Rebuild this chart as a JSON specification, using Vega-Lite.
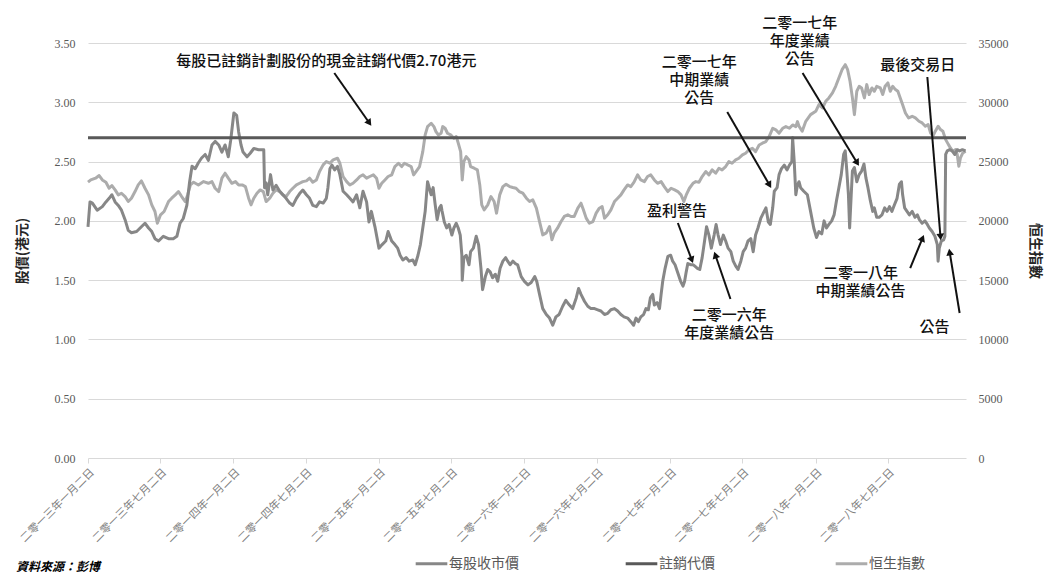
{
  "$schema": "https://vega.github.io/schema/vega-lite/v6.json",
  "width": 878,
  "height": 415,
  "autosize": {"type": "none"},
  "padding": {"left": 88, "top": 43, "right": 84, "bottom": 117},
  "background": "white",
  "config": {"view": {"stroke": null}, "font": "Noto Sans CJK TC"},
  "title": {"text": "資料來源：彭博", "orient": "bottom", "anchor": "start", "frame": "bounds", "fontSize": 12, "fontStyle": "italic", "fontWeight": "bold", "color": "#000000", "font": "Noto Sans CJK TC", "offset": 0, "dy": -9, "dx": 1},
  "datasets": {
    "price": [
      {"d":"2013-01-02","p":1.95},{"d":"2013-01-07","p":2.16},{"d":"2013-01-13","p":2.15},{"d":"2013-01-25","p":2.09},{"d":"2013-02-07","p":2.12},{"d":"2013-02-16","p":2.16},{"d":"2013-02-24","p":2.19},{"d":"2013-03-03","p":2.22},{"d":"2013-03-11","p":2.16},{"d":"2013-03-19","p":2.13},{"d":"2013-03-27","p":2.09},{"d":"2013-04-05","p":2.01},{"d":"2013-04-13","p":1.92},{"d":"2013-04-21","p":1.90},{"d":"2013-05-04","p":1.91},{"d":"2013-05-16","p":1.95},{"d":"2013-05-25","p":1.98},{"d":"2013-06-03","p":1.94},{"d":"2013-06-11","p":1.91},{"d":"2013-06-19","p":1.85},{"d":"2013-06-28","p":1.83},{"d":"2013-07-10","p":1.87},{"d":"2013-07-23","p":1.85},{"d":"2013-08-04","p":1.85},{"d":"2013-08-13","p":1.87},{"d":"2013-08-21","p":1.98},{"d":"2013-08-29","p":2.02},{"d":"2013-09-07","p":2.13},{"d":"2013-09-14","p":2.33},{"d":"2013-09-20","p":2.46},{"d":"2013-09-28","p":2.44},{"d":"2013-10-06","p":2.49},{"d":"2013-10-14","p":2.53},{"d":"2013-10-23","p":2.56},{"d":"2013-10-31","p":2.51},{"d":"2013-11-09","p":2.64},{"d":"2013-11-17","p":2.67},{"d":"2013-11-26","p":2.64},{"d":"2013-12-04","p":2.58},{"d":"2013-12-12","p":2.64},{"d":"2013-12-20","p":2.54},{"d":"2013-12-26","p":2.68},{"d":"2014-01-03","p":2.91},{"d":"2014-01-10","p":2.89},{"d":"2014-01-15","p":2.75},{"d":"2014-01-21","p":2.64},{"d":"2014-01-26","p":2.58},{"d":"2014-02-05","p":2.54},{"d":"2014-02-13","p":2.57},{"d":"2014-02-22","p":2.61},{"d":"2014-03-06","p":2.60},{"d":"2014-03-19","p":2.60},{"d":"2014-03-21","p":2.28},{"d":"2014-03-25","p":2.32},{"d":"2014-03-29","p":2.22},{"d":"2014-04-05","p":2.39},{"d":"2014-04-11","p":2.26},{"d":"2014-04-19","p":2.30},{"d":"2014-04-28","p":2.25},{"d":"2014-05-06","p":2.22},{"d":"2014-05-14","p":2.19},{"d":"2014-05-23","p":2.15},{"d":"2014-05-31","p":2.13},{"d":"2014-06-09","p":2.19},{"d":"2014-06-17","p":2.23},{"d":"2014-06-25","p":2.26},{"d":"2014-07-04","p":2.22},{"d":"2014-07-12","p":2.19},{"d":"2014-07-20","p":2.13},{"d":"2014-07-29","p":2.12},{"d":"2014-08-06","p":2.16},{"d":"2014-08-15","p":2.15},{"d":"2014-08-23","p":2.19},{"d":"2014-08-27","p":2.28},{"d":"2014-09-01","p":2.44},{"d":"2014-09-06","p":2.47},{"d":"2014-09-13","p":2.43},{"d":"2014-09-20","p":2.46},{"d":"2014-09-26","p":2.39},{"d":"2014-10-04","p":2.25},{"d":"2014-10-13","p":2.22},{"d":"2014-10-21","p":2.19},{"d":"2014-10-29","p":2.16},{"d":"2014-11-07","p":2.22},{"d":"2014-11-15","p":2.11},{"d":"2014-11-23","p":2.25},{"d":"2014-12-02","p":2.16},{"d":"2014-12-08","p":1.99},{"d":"2014-12-14","p":2.08},{"d":"2014-12-23","p":1.95},{"d":"2015-01-02","p":1.77},{"d":"2015-01-10","p":1.80},{"d":"2015-01-19","p":1.83},{"d":"2015-01-25","p":1.91},{"d":"2015-02-03","p":1.83},{"d":"2015-02-11","p":1.80},{"d":"2015-02-18","p":1.77},{"d":"2015-02-24","p":1.71},{"d":"2015-03-03","p":1.67},{"d":"2015-03-11","p":1.69},{"d":"2015-03-19","p":1.66},{"d":"2015-03-28","p":1.67},{"d":"2015-04-03","p":1.63},{"d":"2015-04-10","p":1.71},{"d":"2015-04-16","p":1.80},{"d":"2015-04-22","p":1.94},{"d":"2015-04-28","p":2.08},{"d":"2015-05-04","p":2.33},{"d":"2015-05-13","p":2.22},{"d":"2015-05-18","p":2.28},{"d":"2015-05-23","p":2.14},{"d":"2015-05-28","p":2.01},{"d":"2015-06-03","p":2.11},{"d":"2015-06-07","p":2.13},{"d":"2015-06-09","p":2.09},{"d":"2015-06-15","p":1.99},{"d":"2015-06-21","p":1.94},{"d":"2015-06-27","p":1.97},{"d":"2015-07-04","p":1.88},{"d":"2015-07-09","p":1.94},{"d":"2015-07-15","p":1.98},{"d":"2015-07-20","p":1.94},{"d":"2015-07-25","p":1.88},{"d":"2015-07-29","p":1.71},{"d":"2015-07-30","p":1.50},{"d":"2015-08-03","p":1.69},{"d":"2015-08-09","p":1.71},{"d":"2015-08-16","p":1.63},{"d":"2015-08-20","p":1.74},{"d":"2015-08-27","p":1.77},{"d":"2015-09-03","p":1.87},{"d":"2015-09-09","p":1.80},{"d":"2015-09-15","p":1.60},{"d":"2015-09-19","p":1.42},{"d":"2015-09-26","p":1.53},{"d":"2015-10-02","p":1.59},{"d":"2015-10-08","p":1.57},{"d":"2015-10-14","p":1.52},{"d":"2015-10-21","p":1.55},{"d":"2015-10-27","p":1.49},{"d":"2015-11-02","p":1.60},{"d":"2015-11-09","p":1.66},{"d":"2015-11-16","p":1.69},{"d":"2015-11-21","p":1.66},{"d":"2015-11-27","p":1.63},{"d":"2015-12-04","p":1.66},{"d":"2015-12-10","p":1.64},{"d":"2015-12-16","p":1.63},{"d":"2015-12-25","p":1.53},{"d":"2016-01-02","p":1.49},{"d":"2016-01-11","p":1.46},{"d":"2016-01-19","p":1.48},{"d":"2016-01-28","p":1.53},{"d":"2016-02-02","p":1.49},{"d":"2016-02-09","p":1.38},{"d":"2016-02-17","p":1.26},{"d":"2016-02-26","p":1.21},{"d":"2016-03-05","p":1.18},{"d":"2016-03-13","p":1.12},{"d":"2016-03-21","p":1.19},{"d":"2016-03-29","p":1.21},{"d":"2016-04-07","p":1.28},{"d":"2016-04-15","p":1.33},{"d":"2016-04-24","p":1.29},{"d":"2016-05-02","p":1.26},{"d":"2016-05-11","p":1.35},{"d":"2016-05-17","p":1.43},{"d":"2016-05-23","p":1.38},{"d":"2016-06-01","p":1.32},{"d":"2016-06-09","p":1.28},{"d":"2016-06-17","p":1.26},{"d":"2016-06-26","p":1.26},{"d":"2016-07-04","p":1.25},{"d":"2016-07-12","p":1.24},{"d":"2016-07-21","p":1.21},{"d":"2016-07-29","p":1.22},{"d":"2016-08-06","p":1.25},{"d":"2016-08-15","p":1.26},{"d":"2016-08-23","p":1.24},{"d":"2016-08-31","p":1.21},{"d":"2016-09-08","p":1.19},{"d":"2016-09-17","p":1.18},{"d":"2016-09-25","p":1.15},{"d":"2016-10-02","p":1.12},{"d":"2016-10-08","p":1.18},{"d":"2016-10-14","p":1.15},{"d":"2016-10-20","p":1.19},{"d":"2016-10-27","p":1.21},{"d":"2016-11-02","p":1.26},{"d":"2016-11-08","p":1.25},{"d":"2016-11-13","p":1.35},{"d":"2016-11-19","p":1.38},{"d":"2016-11-23","p":1.29},{"d":"2016-11-30","p":1.31},{"d":"2016-12-06","p":1.26},{"d":"2016-12-10","p":1.38},{"d":"2016-12-14","p":1.49},{"d":"2016-12-20","p":1.60},{"d":"2016-12-27","p":1.70},{"d":"2017-01-03","p":1.71},{"d":"2017-01-08","p":1.66},{"d":"2017-01-14","p":1.63},{"d":"2017-01-21","p":1.56},{"d":"2017-01-28","p":1.49},{"d":"2017-02-03","p":1.45},{"d":"2017-02-07","p":1.49},{"d":"2017-02-11","p":1.57},{"d":"2017-02-15","p":1.64},{"d":"2017-02-22","p":1.63},{"d":"2017-02-28","p":1.63},{"d":"2017-03-04","p":1.62},{"d":"2017-03-11","p":1.60},{"d":"2017-03-17","p":1.59},{"d":"2017-03-23","p":1.69},{"d":"2017-03-29","p":1.83},{"d":"2017-04-03","p":1.95},{"d":"2017-04-09","p":1.88},{"d":"2017-04-15","p":1.77},{"d":"2017-04-22","p":1.88},{"d":"2017-04-27","p":1.97},{"d":"2017-05-02","p":1.88},{"d":"2017-05-08","p":1.80},{"d":"2017-05-15","p":1.88},{"d":"2017-05-21","p":1.83},{"d":"2017-05-27","p":1.77},{"d":"2017-06-03","p":1.74},{"d":"2017-06-09","p":1.66},{"d":"2017-06-15","p":1.62},{"d":"2017-06-21","p":1.59},{"d":"2017-06-28","p":1.66},{"d":"2017-07-04","p":1.74},{"d":"2017-07-10","p":1.77},{"d":"2017-07-16","p":1.83},{"d":"2017-07-23","p":1.85},{"d":"2017-07-29","p":1.74},{"d":"2017-08-04","p":1.88},{"d":"2017-08-10","p":1.94},{"d":"2017-08-17","p":2.02},{"d":"2017-08-24","p":2.07},{"d":"2017-08-30","p":2.11},{"d":"2017-09-05","p":1.99},{"d":"2017-09-10","p":1.97},{"d":"2017-09-16","p":2.11},{"d":"2017-09-20","p":2.25},{"d":"2017-09-27","p":2.28},{"d":"2017-10-02","p":2.39},{"d":"2017-10-08","p":2.44},{"d":"2017-10-15","p":2.47},{"d":"2017-10-22","p":2.43},{"d":"2017-10-28","p":2.47},{"d":"2017-11-03","p":2.50},{"d":"2017-11-05","p":2.70},{"d":"2017-11-09","p":2.50},{"d":"2017-11-13","p":2.22},{"d":"2017-11-17","p":2.30},{"d":"2017-11-21","p":2.33},{"d":"2017-11-25","p":2.28},{"d":"2017-12-03","p":2.25},{"d":"2017-12-12","p":2.22},{"d":"2017-12-20","p":2.08},{"d":"2017-12-28","p":1.94},{"d":"2018-01-04","p":1.86},{"d":"2018-01-10","p":1.91},{"d":"2018-01-17","p":1.89},{"d":"2018-01-23","p":2.00},{"d":"2018-01-29","p":1.94},{"d":"2018-02-04","p":1.97},{"d":"2018-02-11","p":2.00},{"d":"2018-02-17","p":2.05},{"d":"2018-02-23","p":2.17},{"d":"2018-03-01","p":2.28},{"d":"2018-03-07","p":2.39},{"d":"2018-03-13","p":2.56},{"d":"2018-03-17","p":2.59},{"d":"2018-03-21","p":2.42},{"d":"2018-03-25","p":2.22},{"d":"2018-03-28","p":1.94},{"d":"2018-04-01","p":2.22},{"d":"2018-04-04","p":2.42},{"d":"2018-04-09","p":2.45},{"d":"2018-04-15","p":2.33},{"d":"2018-04-21","p":2.39},{"d":"2018-04-27","p":2.42},{"d":"2018-05-03","p":2.48},{"d":"2018-05-08","p":2.36},{"d":"2018-05-13","p":2.28},{"d":"2018-05-19","p":2.17},{"d":"2018-05-25","p":2.08},{"d":"2018-05-29","p":2.11},{"d":"2018-06-04","p":2.03},{"d":"2018-06-10","p":2.03},{"d":"2018-06-17","p":2.05},{"d":"2018-06-24","p":2.11},{"d":"2018-06-30","p":2.08},{"d":"2018-07-06","p":2.12},{"d":"2018-07-12","p":2.08},{"d":"2018-07-19","p":2.14},{"d":"2018-07-25","p":2.19},{"d":"2018-07-31","p":2.31},{"d":"2018-08-05","p":2.33},{"d":"2018-08-08","p":2.22},{"d":"2018-08-13","p":2.11},{"d":"2018-08-19","p":2.08},{"d":"2018-08-25","p":2.05},{"d":"2018-09-01","p":2.08},{"d":"2018-09-08","p":2.03},{"d":"2018-09-14","p":2.05},{"d":"2018-09-19","p":2.01},{"d":"2018-09-26","p":1.98},{"d":"2018-10-03","p":2.00},{"d":"2018-10-09","p":1.97},{"d":"2018-10-14","p":1.94},{"d":"2018-10-21","p":1.91},{"d":"2018-10-28","p":1.87},{"d":"2018-11-03","p":1.80},{"d":"2018-11-05","p":1.66},{"d":"2018-11-08","p":1.77},{"d":"2018-11-13","p":1.83},{"d":"2018-11-19","p":1.84},{"d":"2018-11-22","p":1.87},{"d":"2018-11-24","p":2.56},{"d":"2018-11-28","p":2.59},{"d":"2018-12-04","p":2.60},{"d":"2018-12-10","p":2.59},{"d":"2018-12-17","p":2.56},{"d":"2018-12-23","p":2.60},{"d":"2018-12-29","p":2.59},{"d":"2019-01-05","p":2.60},{"d":"2019-01-13","p":2.59}
    ],
    "hsi": [
      {"d":"2013-01-02","h":23260},{"d":"2013-01-09","h":23450},{"d":"2013-01-21","h":23600},{"d":"2013-01-30","h":23820},{"d":"2013-02-07","h":23450},{"d":"2013-02-16","h":23260},{"d":"2013-02-24","h":22750},{"d":"2013-03-03","h":22980},{"d":"2013-03-11","h":22610},{"d":"2013-03-19","h":22190},{"d":"2013-03-27","h":22330},{"d":"2013-04-05","h":22050},{"d":"2013-04-13","h":21630},{"d":"2013-04-21","h":21910},{"d":"2013-04-30","h":22470},{"d":"2013-05-08","h":23030},{"d":"2013-05-16","h":23370},{"d":"2013-05-25","h":22750},{"d":"2013-06-03","h":22190},{"d":"2013-06-11","h":21350},{"d":"2013-06-19","h":20790},{"d":"2013-06-25","h":19800},{"d":"2013-07-03","h":20510},{"d":"2013-07-12","h":20790},{"d":"2013-07-23","h":21630},{"d":"2013-07-31","h":21910},{"d":"2013-08-09","h":22190},{"d":"2013-08-17","h":22470},{"d":"2013-08-25","h":22050},{"d":"2013-09-03","h":21630},{"d":"2013-09-09","h":22190},{"d":"2013-09-16","h":23030},{"d":"2013-09-24","h":23260},{"d":"2013-10-06","h":23030},{"d":"2013-10-19","h":23310},{"d":"2013-10-31","h":23170},{"d":"2013-11-09","h":23310},{"d":"2013-11-17","h":22750},{"d":"2013-11-26","h":22470},{"d":"2013-12-04","h":23600},{"d":"2013-12-12","h":24020},{"d":"2013-12-20","h":23600},{"d":"2013-12-29","h":23170},{"d":"2014-01-07","h":23310},{"d":"2014-01-15","h":23030},{"d":"2014-01-24","h":23030},{"d":"2014-02-01","h":22890},{"d":"2014-02-09","h":21910},{"d":"2014-02-15","h":21350},{"d":"2014-02-22","h":21910},{"d":"2014-03-02","h":22330},{"d":"2014-03-10","h":22610},{"d":"2014-03-18","h":22470},{"d":"2014-03-25","h":21630},{"d":"2014-04-03","h":21910},{"d":"2014-04-11","h":22330},{"d":"2014-04-19","h":22610},{"d":"2014-04-28","h":22470},{"d":"2014-05-06","h":22190},{"d":"2014-05-14","h":22050},{"d":"2014-05-23","h":22470},{"d":"2014-05-31","h":22750},{"d":"2014-06-09","h":23030},{"d":"2014-06-17","h":23170},{"d":"2014-06-25","h":23310},{"d":"2014-07-04","h":23370},{"d":"2014-07-12","h":23600},{"d":"2014-07-20","h":23260},{"d":"2014-07-29","h":23450},{"d":"2014-08-06","h":24160},{"d":"2014-08-15","h":24720},{"d":"2014-08-23","h":25000},{"d":"2014-09-01","h":24860},{"d":"2014-09-09","h":25140},{"d":"2014-09-20","h":25280},{"d":"2014-09-26","h":24860},{"d":"2014-10-04","h":23740},{"d":"2014-10-13","h":23310},{"d":"2014-10-21","h":23030},{"d":"2014-10-29","h":23170},{"d":"2014-11-07","h":23450},{"d":"2014-11-15","h":23740},{"d":"2014-11-23","h":23880},{"d":"2014-12-02","h":23600},{"d":"2014-12-10","h":23740},{"d":"2014-12-19","h":23880},{"d":"2014-12-27","h":23600},{"d":"2015-01-02","h":22750},{"d":"2015-01-09","h":23170},{"d":"2015-01-17","h":23450},{"d":"2015-01-25","h":23740},{"d":"2015-02-03","h":23880},{"d":"2015-02-11","h":24580},{"d":"2015-02-20","h":24860},{"d":"2015-02-28","h":24580},{"d":"2015-03-07","h":24860},{"d":"2015-03-15","h":24720},{"d":"2015-03-24","h":24580},{"d":"2015-03-30","h":23880},{"d":"2015-04-05","h":24160},{"d":"2015-04-14","h":24580},{"d":"2015-04-22","h":25840},{"d":"2015-04-28","h":27250},{"d":"2015-05-04","h":27950},{"d":"2015-05-13","h":28230},{"d":"2015-05-20","h":27950},{"d":"2015-05-25","h":27530},{"d":"2015-05-31","h":27250},{"d":"2015-06-07","h":27390},{"d":"2015-06-11","h":27950},{"d":"2015-06-17","h":27810},{"d":"2015-06-23","h":27390},{"d":"2015-07-01","h":27250},{"d":"2015-07-09","h":26970},{"d":"2015-07-15","h":27110},{"d":"2015-07-20","h":26550},{"d":"2015-07-26","h":25840},{"d":"2015-07-30","h":23450},{"d":"2015-08-03","h":25000},{"d":"2015-08-09","h":25420},{"d":"2015-08-16","h":25140},{"d":"2015-08-20","h":24580},{"d":"2015-08-29","h":24440},{"d":"2015-09-06","h":24300},{"d":"2015-09-12","h":23030},{"d":"2015-09-17","h":21350},{"d":"2015-09-23","h":20930},{"d":"2015-10-02","h":21350},{"d":"2015-10-10","h":22050},{"d":"2015-10-18","h":21630},{"d":"2015-10-24","h":20650},{"d":"2015-11-01","h":22190},{"d":"2015-11-09","h":22890},{"d":"2015-11-17","h":23090},{"d":"2015-11-26","h":22890},{"d":"2015-12-04","h":22810},{"d":"2015-12-12","h":22750},{"d":"2015-12-20","h":22470},{"d":"2015-12-29","h":22330},{"d":"2016-01-07","h":21910},{"d":"2016-01-15","h":21630},{"d":"2016-01-23","h":21770},{"d":"2016-02-01","h":21070},{"d":"2016-02-09","h":19940},{"d":"2016-02-17","h":18820},{"d":"2016-02-26","h":18990},{"d":"2016-03-05","h":19520},{"d":"2016-03-11","h":18400},{"d":"2016-03-17","h":18990},{"d":"2016-03-25","h":19380},{"d":"2016-04-03","h":19940},{"d":"2016-04-11","h":20370},{"d":"2016-04-20","h":20510},{"d":"2016-04-28","h":20370},{"d":"2016-05-06","h":20370},{"d":"2016-05-15","h":21070},{"d":"2016-05-23","h":21490},{"d":"2016-05-29","h":20930},{"d":"2016-06-05","h":20230},{"d":"2016-06-13","h":19800},{"d":"2016-06-22","h":19940},{"d":"2016-06-30","h":20650},{"d":"2016-07-08","h":21070},{"d":"2016-07-15","h":21210},{"d":"2016-07-21","h":20230},{"d":"2016-07-29","h":20510},{"d":"2016-08-06","h":20930},{"d":"2016-08-15","h":21630},{"d":"2016-08-23","h":21910},{"d":"2016-08-31","h":22190},{"d":"2016-09-08","h":22610},{"d":"2016-09-17","h":23030},{"d":"2016-09-25","h":22890},{"d":"2016-10-03","h":23260},{"d":"2016-10-12","h":23880},{"d":"2016-10-20","h":23450},{"d":"2016-10-29","h":23310},{"d":"2016-11-06","h":23740},{"d":"2016-11-14","h":23880},{"d":"2016-11-23","h":23450},{"d":"2016-12-01","h":23170},{"d":"2016-12-10","h":23310},{"d":"2016-12-18","h":22890},{"d":"2016-12-27","h":22470},{"d":"2017-01-04","h":22750},{"d":"2017-01-13","h":22610},{"d":"2017-01-21","h":22470},{"d":"2017-01-29","h":22190},{"d":"2017-02-05","h":21630},{"d":"2017-02-11","h":22190},{"d":"2017-02-19","h":22750},{"d":"2017-02-28","h":23170},{"d":"2017-03-07","h":23310},{"d":"2017-03-15","h":23260},{"d":"2017-03-23","h":23740},{"d":"2017-04-01","h":24160},{"d":"2017-04-09","h":23880},{"d":"2017-04-17","h":24300},{"d":"2017-04-26","h":24020},{"d":"2017-05-04","h":24440},{"d":"2017-05-12","h":24300},{"d":"2017-05-21","h":24580},{"d":"2017-05-29","h":25000},{"d":"2017-06-06","h":24860},{"d":"2017-06-15","h":25140},{"d":"2017-06-23","h":25280},{"d":"2017-07-02","h":25560},{"d":"2017-07-10","h":25700},{"d":"2017-07-18","h":25980},{"d":"2017-07-27","h":26120},{"d":"2017-08-04","h":25840},{"d":"2017-08-13","h":26400},{"d":"2017-08-21","h":26550},{"d":"2017-08-30","h":26690},{"d":"2017-09-07","h":27110},{"d":"2017-09-16","h":27810},{"d":"2017-09-24","h":27670},{"d":"2017-10-02","h":27390},{"d":"2017-10-11","h":27810},{"d":"2017-10-19","h":27950},{"d":"2017-10-28","h":27810},{"d":"2017-11-05","h":28090},{"d":"2017-11-13","h":27950},{"d":"2017-11-17","h":28370},{"d":"2017-11-21","h":27980},{"d":"2017-11-29","h":27560},{"d":"2017-12-08","h":28400},{"d":"2017-12-20","h":28960},{"d":"2018-01-02","h":29240},{"d":"2018-01-10","h":29800},{"d":"2018-01-19","h":29520},{"d":"2018-01-27","h":30080},{"d":"2018-02-04","h":30370},{"d":"2018-02-13","h":30790},{"d":"2018-02-21","h":31350},{"d":"2018-03-01","h":32050},{"d":"2018-03-09","h":32750},{"d":"2018-03-17","h":33170},{"d":"2018-03-23","h":32750},{"d":"2018-03-29","h":31770},{"d":"2018-04-04","h":30370},{"d":"2018-04-09","h":28960},{"d":"2018-04-15","h":30930},{"d":"2018-04-21","h":31350},{"d":"2018-04-27","h":31210},{"d":"2018-05-04","h":30370},{"d":"2018-05-10","h":31490},{"d":"2018-05-16","h":30650},{"d":"2018-05-23","h":31210},{"d":"2018-05-29","h":30930},{"d":"2018-06-04","h":31350},{"d":"2018-06-13","h":31210},{"d":"2018-06-19","h":30650},{"d":"2018-06-25","h":31350},{"d":"2018-07-02","h":31630},{"d":"2018-07-08","h":30930},{"d":"2018-07-14","h":31350},{"d":"2018-07-21","h":31070},{"d":"2018-07-27","h":30930},{"d":"2018-08-02","h":30370},{"d":"2018-08-08","h":29800},{"d":"2018-08-15","h":29100},{"d":"2018-08-23","h":28680},{"d":"2018-09-01","h":28820},{"d":"2018-09-09","h":28680},{"d":"2018-09-18","h":28400},{"d":"2018-09-26","h":28260},{"d":"2018-10-04","h":27980},{"d":"2018-10-11","h":28120},{"d":"2018-10-17","h":27420},{"d":"2018-10-23","h":27140},{"d":"2018-10-29","h":27560},{"d":"2018-11-05","h":27980},{"d":"2018-11-11","h":27700},{"d":"2018-11-17","h":27560},{"d":"2018-11-24","h":26850},{"d":"2018-12-01","h":26430},{"d":"2018-12-06","h":26150},{"d":"2018-12-12","h":25870},{"d":"2018-12-19","h":26010},{"d":"2018-12-23","h":25590},{"d":"2018-12-27","h":24610},{"d":"2018-12-31","h":25310},{"d":"2019-01-06","h":25730},{"d":"2019-01-13","h":25870}
    ]
  },
  "layer": [
    {
      "data": {"name": "hsi"},
      "mark": {"type": "line", "strokeWidth": 3, "strokeJoin": "round"},
      "encoding": {
        "x": {"field": "d", "type": "temporal", "scale": {"type": "utc", "domain": [{"year": 2013, "month": 1, "date": 2, "utc": true}, {"year": 2019, "month": 1, "date": 14, "utc": true}], "nice": false},
          "axis": {"title": null, "values": [{"year": 2013, "month": 1, "date": 2, "utc": true}, {"year": 2013, "month": 7, "date": 2, "utc": true}, {"year": 2014, "month": 1, "date": 2, "utc": true}, {"year": 2014, "month": 7, "date": 2, "utc": true}, {"year": 2015, "month": 1, "date": 2, "utc": true}, {"year": 2015, "month": 7, "date": 2, "utc": true}, {"year": 2016, "month": 1, "date": 2, "utc": true}, {"year": 2016, "month": 7, "date": 2, "utc": true}, {"year": 2017, "month": 1, "date": 2, "utc": true}, {"year": 2017, "month": 7, "date": 2, "utc": true}, {"year": 2018, "month": 1, "date": 2, "utc": true}, {"year": 2018, "month": 7, "date": 2, "utc": true}],
            "labelExpr": "'二零一' + ['零','一','二','三','四','五','六','七','八','九'][utcyear(datum.value) - 2010] + '年' + (utcmonth(datum.value) == 0 ? '一' : '七') + '月二日'",
            "labelAngle": -45, "labelFontSize": 11, "labelColor": "#7f7f7f", "labelFont": "Noto Sans CJK TC", "labelOverlap": false, "labelPadding": 3, "grid": false, "domain": false, "ticks": true, "tickColor": "#d9d9d9", "tickSize": 5}},
        "y": {"field": "h", "type": "quantitative", "scale": {"domain": [0, 35000], "nice": false}, "axis": {"orient": "right", "values": [0, 5000, 10000, 15000, 20000, 25000, 30000, 35000], "format": "d", "grid": false, "domain": false, "ticks": false, "labelFont": "Liberation Serif", "labelFontSize": 12, "labelColor": "#595959", "labelPadding": 12, "title": "恒生指數", "titleFont": "Noto Sans CJK TC", "titleFontSize": 14, "titleFontWeight": "bold", "titleColor": "#262626", "titlePadding": 19}},
        "color": {"datum": "恒生指數", "type": "nominal"}
      }
    },
    {
      "layer": [
        {
          "data": {"name": "price"},
          "mark": {"type": "line", "strokeWidth": 3, "strokeJoin": "round"},
          "encoding": {
            "x": {"field": "d", "type": "temporal"},
            "y": {"field": "p", "type": "quantitative", "scale": {"domain": [0, 3.5], "nice": false},
              "axis": {"orient": "left", "values": [0, 0.5, 1, 1.5, 2, 2.5, 3, 3.5], "format": ".2f", "grid": true, "gridColor": "#d9d9d9", "gridWidth": 1, "domain": false, "ticks": false, "labelFont": "Liberation Serif", "labelFontSize": 12, "labelColor": "#595959", "labelPadding": 13, "title": "股價(港元)", "titleFont": "Noto Sans CJK TC", "titleFontSize": 14, "titleFontWeight": "bold", "titleColor": "#262626", "titlePadding": 25}},
            "color": {"datum": "每股收市價", "type": "nominal",
              "scale": {"domain": ["每股收市價", "註銷代價", "恒生指數"], "range": ["#878787", "#595959", "#acacac"]},
              "legend": {"orient": "none", "legendX": 326, "legendY": 503, "direction": "horizontal", "columns": 3, "title": null, "symbolType": "stroke", "symbolSize": 1000, "symbolStrokeWidth": 3, "labelFontSize": 14, "labelColor": "#595959", "labelFont": "Noto Sans CJK TC", "columnPadding": 100, "gridAlign": "all", "labelOffset": 0, "padding": 0}}
          }
        },
        {
          "data": {"values": [{}]},
          "mark": {"type": "rule", "strokeWidth": 3},
          "encoding": {
            "y": {"datum": 2.7, "type": "quantitative"},
            "color": {"datum": "註銷代價", "type": "nominal"}
          }
        },
        {
          "data": {"values": [
            {"d1": "2014-09-12", "p1": 3.247, "d2": "2014-12-09", "p2": 2.825},
            {"d1": "2017-05-25", "p1": 2.918, "d2": "2017-09-08", "p2": 2.302},
            {"d1": "2017-11-30", "p1": 3.247, "d2": "2018-04-16", "p2": 2.488},
            {"d1": "2018-10-09", "p1": 3.213, "d2": "2018-11-11", "p2": 1.864},
            {"d1": "2017-01-21", "p1": 1.982, "d2": "2017-02-25", "p2": 1.670},
            {"d1": "2017-06-02", "p1": 1.341, "d2": "2017-04-25", "p2": 1.712},
            {"d1": "2018-08-27", "p1": 1.602, "d2": "2018-09-27", "p2": 1.855},
            {"d1": "2018-12-29", "p1": 1.223, "d2": "2018-12-04", "p2": 1.737}
          ], "format": {"parse": {"d1": "date", "d2": "date"}}},
          "transform": [{"calculate": "atan2((time(datum.d2) - time(datum.d1)) / 86400000 * 0.3984, (datum.p2 - datum.p1) * 118.57) * 180 / PI", "as": "ang"}],
          "layer": [
            {"mark": {"type": "rule", "strokeWidth": 2, "color": "#111111"},
             "encoding": {"x": {"field": "d1", "type": "temporal"}, "y": {"field": "p1", "type": "quantitative"}, "x2": {"field": "d2"}, "y2": {"field": "p2"}}},
            {"mark": {"type": "point", "shape": "triangle-up", "filled": true, "size": 60, "color": "#111111", "opacity": 1, "strokeWidth": 0},
             "encoding": {"x": {"field": "d2", "type": "temporal"}, "y": {"field": "p2", "type": "quantitative"}, "angle": {"field": "ang", "type": "quantitative", "scale": null}}}
          ]
        },
        {
          "data": {"values": [
            {"d": "2014-08-23", "p": 3.348, "t": "每股已註銷計劃股份的現金註銷代價2.70港元"},
            {"d": "2017-03-16", "p": 3.340, "t": "二零一七年\n中期業績\n公告"},
            {"d": "2017-11-23", "p": 3.669, "t": "二零一七年\n年度業績\n公告"},
            {"d": "2018-09-15", "p": 3.315, "t": "最後交易日"},
            {"d": "2017-01-19", "p": 2.083, "t": "盈利警告"},
            {"d": "2017-05-30", "p": 1.206, "t": "二零一六年\n年度業績公告"},
            {"d": "2018-04-24", "p": 1.560, "t": "二零一八年\n中期業績公告"},
            {"d": "2018-10-27", "p": 1.105, "t": "公告"}
          ]},
          "mark": {"type": "text", "fontSize": 15, "fontWeight": 500, "lineBreak": "\n", "lineHeight": 18, "align": "center", "baseline": "middle", "color": "#111111", "font": "Noto Sans CJK TC"},
          "encoding": {"x": {"field": "d", "type": "temporal"}, "y": {"field": "p", "type": "quantitative"}, "text": {"field": "t"}}
        }
      ]
    }
  ],
  "resolve": {"scale": {"y": "independent"}}
}
